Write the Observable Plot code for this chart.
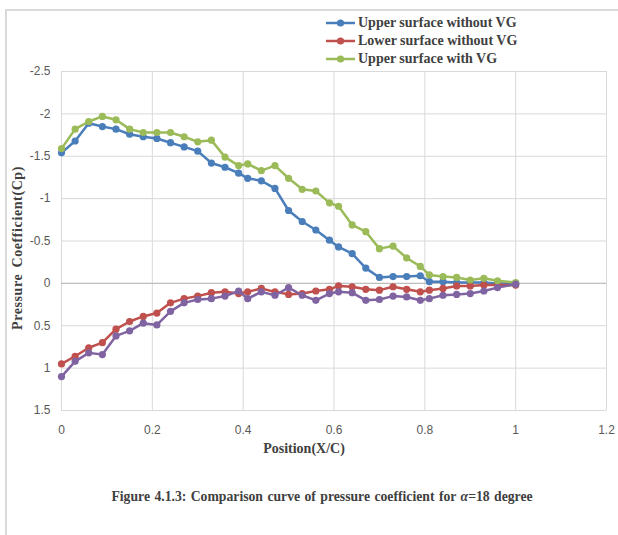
<!DOCTYPE html>
<html>
<head>
<meta charset="utf-8">
<script src="https://cdn.jsdelivr.net/npm/d3@7"></script>
<script src="https://cdn.jsdelivr.net/npm/@observablehq/plot@0.6"></script>
<style>
  html, body { margin: 0; padding: 0; background: #fff; }
  #wrap { position: relative; width: 618px; height: 535px; overflow: hidden; }
  #frame { position: absolute; left: 5px; top: 9px; width: 700px; height: 600px;
           border-left: 2px solid #d9d9d9; border-top: 2px solid #d9d9d9; }
  #chart { position: absolute; left: 0; top: 0; }
  .serif { font-family: "Liberation Serif", "Times New Roman", serif; font-weight: bold; color: #404040; position: absolute; white-space: nowrap; }
  #legend { left: 326px; top: 14px; font-size: 14px; line-height: 18px; }
  #legend .row { display: flex; align-items: center; height: 18px; }
  #legend svg { margin-right: 3px; }
  #ytitle { font-size: 14px; letter-spacing: 0.6px; word-spacing: 2px; }
  #xtitle { left: 304px; top: 449px; font-size: 14px; transform: translate(-50%, -50%); }
  #caption { left: 322px; top: 497px; font-size: 13.7px; word-spacing: 1px; transform: translate(-50%, -50%); }
</style>
</head>
<body>
<div id="wrap">
  <div id="frame"></div>
  <div id="chart"></div>
  <div id="legend" class="serif"></div>
  <div id="ytitle" class="serif">Pressure Coefficient(Cp)</div>
  <div id="xtitle" class="serif">Position(X/C)</div>
  <div id="caption" class="serif">Figure 4.1.3: Comparison curve of pressure coefficient for <i>α</i>=18 degree</div>
</div>
<script>
// Data
const position = [0,0.03,0.06,0.09,0.12,0.15,0.18,0.21,0.24,0.27,0.30,0.33,0.36,0.39,0.41,0.44,0.47,0.50,0.53,0.56,0.59,0.61,0.64,0.67,0.70,0.73,0.76,0.79,0.81,0.84,0.87,0.90,0.93,0.96,1.0];
const upperNoVG = [-1.54,-1.68,-1.89,-1.85,-1.82,-1.76,-1.73,-1.71,-1.66,-1.61,-1.56,-1.42,-1.37,-1.30,-1.24,-1.21,-1.12,-0.86,-0.73,-0.63,-0.51,-0.43,-0.35,-0.18,-0.07,-0.08,-0.08,-0.09,-0.02,-0.02,-0.01,-0.01,-0.01,0,0];
const lowerNoVG = [0.95,0.86,0.76,0.70,0.54,0.45,0.39,0.35,0.23,0.18,0.15,0.11,0.10,0.12,0.10,0.06,0.10,0.13,0.12,0.09,0.07,0.03,0.04,0.07,0.08,0.04,0.07,0.10,0.08,0.06,0.03,0.03,0.02,0.02,0.02];
const upperVG = [-1.59,-1.82,-1.91,-1.97,-1.93,-1.82,-1.78,-1.78,-1.78,-1.73,-1.67,-1.69,-1.49,-1.39,-1.41,-1.33,-1.39,-1.24,-1.11,-1.09,-0.95,-0.91,-0.69,-0.61,-0.41,-0.44,-0.30,-0.20,-0.10,-0.08,-0.07,-0.04,-0.06,-0.03,-0.01];
const lowerVG = [1.10,0.92,0.82,0.84,0.62,0.56,0.47,0.49,0.33,0.23,0.19,0.18,0.15,0.09,0.18,0.10,0.14,0.05,0.14,0.20,0.12,0.10,0.11,0.20,0.19,0.15,0.16,0.20,0.18,0.14,0.13,0.12,0.09,0.05,0.01];

const seriesNames = ["Upper surface without VG", "Lower surface without VG", "Upper surface with VG", "Lower surface with VG"];
const seriesColors = ["#4a7ebb", "#c0504d", "#9bbb59", "#8064a2"];
const legendNames = seriesNames.slice(0, 3);

const xTicks = [0, 0.2, 0.4, 0.6, 0.8, 1, 1.2];
const yTicks = [-2.5, -2, -1.5, -1, -0.5, 0, 0.5, 1, 1.5];

const seriesValues = [upperNoVG, lowerNoVG, upperVG, lowerVG];
const rows = seriesValues.flatMap((vals, s) => vals.map((v, i) => ({series: seriesNames[s], x: position[i], y: v})));

const seriesMarks = seriesNames.flatMap((name, s) => {
  const d = rows.filter(r => r.series === name);
  return [
    Plot.line(d, {x: "x", y: "y", stroke: seriesColors[s], strokeWidth: 2.5}),
    Plot.dot(d, {x: "x", y: "y", r: 3.6, fill: seriesColors[s], stroke: "none"})
  ];
});

const chart = Plot.plot({
  width: 618,
  height: 535,
  marginLeft: 61,
  marginRight: 12,
  marginTop: 71,
  marginBottom: 125,
  style: {fontFamily: "'Liberation Sans Narrow', 'Liberation Sans', sans-serif", fontSize: "12px", color: "#595959", background: "transparent"},
  x: {domain: [0, 1.2], ticks: xTicks, tickSize: 0, tickPadding: 15, tickFormat: d => String(d), label: null},
  y: {domain: [1.5, -2.5], ticks: yTicks, tickSize: 0, tickPadding: 11, tickFormat: d => String(d), label: null},
  marks: [
    Plot.ruleX(xTicks, {stroke: "#d9d9d9", strokeWidth: 1, strokeOpacity: 1}),
    Plot.ruleY(yTicks, {stroke: "#d9d9d9", strokeWidth: 1, strokeOpacity: 1}),
    Plot.ruleY([0], {stroke: "#bfbfbf", strokeWidth: 1.2}),
    ...seriesMarks
  ]
});
document.getElementById("chart").appendChild(chart);

// Legend
const legend = document.getElementById("legend");
legendNames.forEach((name, i) => {
  const row = document.createElement("div");
  row.className = "row";
  const c = seriesColors[i];
  row.innerHTML = `<svg width="29" height="10"><line x1="0" y1="5" x2="29" y2="5" stroke="${c}" stroke-width="2.5"/><circle cx="14.5" cy="5" r="3.6" fill="${c}"/></svg><span>${name}</span>`;
  legend.appendChild(row);
});

// Position the rotated y title so its centre sits near (18, 248)
const yt = document.getElementById("ytitle");
const w = yt.offsetWidth, h = yt.offsetHeight;
yt.style.left = (18 - w / 2) + "px";
yt.style.top = (248 - h / 2) + "px";
yt.style.transform = "rotate(-90deg)";
</script>
</body>
</html>
